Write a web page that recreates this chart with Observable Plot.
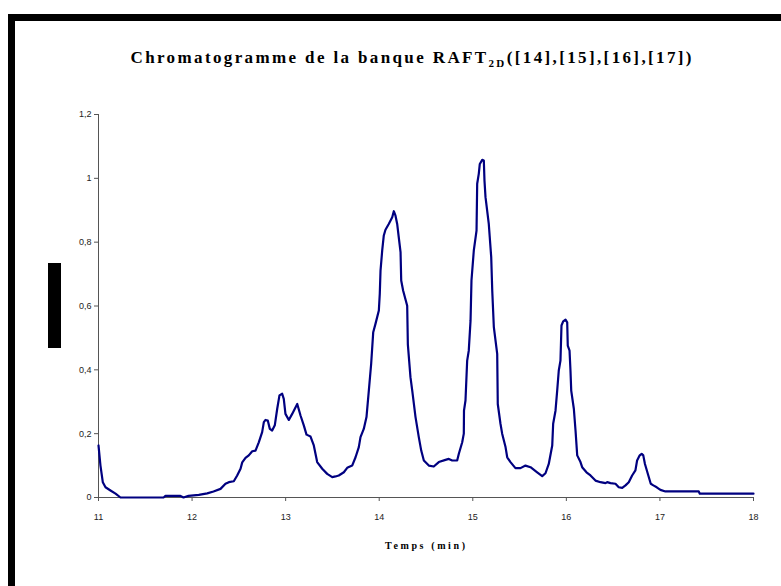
<!DOCTYPE html>
<html>
<head>
<meta charset="utf-8">
<script src="https://cdn.jsdelivr.net/npm/d3@7"></script>
<script src="https://cdn.jsdelivr.net/npm/@observablehq/plot@0.6"></script>
<style>
  html, body { margin: 0; padding: 0; background: #fff; }
  #wrap { position: relative; width: 781px; height: 586px; overflow: hidden; background: #fff; }
  #frame { position: absolute; left: 8px; top: 14px; width: 1000px; height: 1000px;
           border-left: 7px solid #000; border-top: 7px solid #000; box-sizing: border-box; }
  #ylabel { position: absolute; left: 48px; top: 263px; width: 13px; height: 85px; background: #000; }
  #chart { position: absolute; left: 0; top: 0; }
</style>
</head>
<body>
<div id="wrap">
  <div id="frame"></div>
  <div id="chart"></div>
  <div id="ylabel"></div>
</div>
<script>
const titleMain = "Chromatogramme de la banque RAFT";
const titleSub = "2D";
const titleEnd = "([14],[15],[16],[17])";
const xLabel = "Temps (min)";
const xTicks = [11, 12, 13, 14, 15, 16, 17, 18];
const yTicks = [0, 0.2, 0.4, 0.6, 0.8, 1, 1.2];

const times = [
  11.0, 11.021, 11.046, 11.075, 11.128, 11.182, 11.235, 11.695, 11.716, 11.876,
  11.908, 11.962, 12.072, 12.162, 12.229, 12.304, 12.357, 12.393, 12.446, 12.482,
  12.518, 12.536, 12.571, 12.606, 12.643, 12.678, 12.713, 12.749, 12.767, 12.785,
  12.809, 12.831, 12.856, 12.884, 12.910, 12.934, 12.963, 12.980, 12.998, 13.034,
  13.070, 13.124, 13.159, 13.194, 13.223, 13.266, 13.301, 13.337, 13.391, 13.444,
  13.498, 13.533, 13.568, 13.622, 13.658, 13.711, 13.747, 13.782, 13.800, 13.835,
  13.864, 13.889, 13.914, 13.936, 13.960, 13.996, 14.006, 14.014, 14.032, 14.049,
  14.067, 14.102, 14.139, 14.156, 14.174, 14.192, 14.209, 14.228, 14.235, 14.256,
  14.299, 14.306, 14.334, 14.353, 14.388, 14.423, 14.449, 14.477, 14.530, 14.583,
  14.637, 14.708, 14.744, 14.780, 14.833, 14.851, 14.887, 14.904, 14.906, 14.922,
  14.940, 14.957, 14.976, 14.986, 15.011, 15.040, 15.047, 15.064, 15.075, 15.101,
  15.118, 15.125, 15.136, 15.171, 15.197, 15.208, 15.225, 15.261, 15.267, 15.296,
  15.314, 15.350, 15.368, 15.403, 15.456, 15.510, 15.563, 15.617, 15.688, 15.742,
  15.777, 15.812, 15.849, 15.859, 15.884, 15.902, 15.919, 15.937, 15.948, 15.966,
  15.991, 16.009, 16.015, 16.034, 16.044, 16.052, 16.080, 16.098, 16.116, 16.151,
  16.169, 16.215, 16.258, 16.311, 16.365, 16.418, 16.436, 16.472, 16.525, 16.560,
  16.597, 16.632, 16.667, 16.703, 16.738, 16.756, 16.784, 16.805, 16.822, 16.840,
  16.876, 16.902, 16.930, 16.966, 17.005, 17.059, 17.415, 17.426, 18.0
];
const absorbance = [
  0.163, 0.10, 0.048, 0.032, 0.022, 0.012, 0.0, 0.0, 0.005, 0.005,
  0.0, 0.005, 0.008, 0.013, 0.019, 0.027, 0.043, 0.048, 0.051, 0.069,
  0.090, 0.110, 0.124, 0.132, 0.145, 0.147, 0.173, 0.205, 0.236, 0.243,
  0.241, 0.215, 0.210, 0.226, 0.278, 0.320, 0.325, 0.309, 0.262, 0.243,
  0.262, 0.293, 0.257, 0.226, 0.197, 0.191, 0.163, 0.111, 0.090, 0.074,
  0.064, 0.066, 0.069, 0.079, 0.093, 0.100, 0.126, 0.158, 0.189, 0.215,
  0.252, 0.335, 0.419, 0.518, 0.544, 0.586, 0.638, 0.711, 0.774, 0.821,
  0.839, 0.857, 0.878, 0.897, 0.883, 0.857, 0.815, 0.769, 0.680, 0.648,
  0.601, 0.480, 0.377, 0.335, 0.252, 0.189, 0.147, 0.116, 0.100, 0.097,
  0.111, 0.118, 0.121, 0.116, 0.116, 0.137, 0.173, 0.200, 0.272, 0.304,
  0.429, 0.460, 0.554, 0.680, 0.774, 0.836, 0.983, 1.014, 1.045, 1.058,
  1.056, 0.993, 0.941, 0.857, 0.753, 0.648, 0.534, 0.450, 0.293, 0.231,
  0.200, 0.158, 0.126, 0.111, 0.092, 0.092, 0.100, 0.095, 0.079, 0.067,
  0.076, 0.105, 0.163, 0.231, 0.272, 0.335, 0.398, 0.429, 0.539, 0.552,
  0.557, 0.549, 0.476, 0.460, 0.398, 0.335, 0.278, 0.210, 0.132, 0.111,
  0.095, 0.079, 0.069, 0.053, 0.048, 0.045, 0.048, 0.045, 0.043, 0.032,
  0.030, 0.038, 0.048, 0.069, 0.085, 0.116, 0.132, 0.137, 0.132, 0.105,
  0.069, 0.043, 0.038, 0.032, 0.024, 0.019, 0.019, 0.012, 0.012
];

const data = times.map((t, i) => ({t, a: absorbance[i]}));
const fmt = d => String(d).replace(".", ",");

const plot = Plot.plot({
  width: 781,
  height: 586,
  marginLeft: 98,
  marginRight: 28,
  marginTop: 114,
  marginBottom: 89,
  style: {background: "transparent", fontFamily: "'Liberation Sans', Arial, sans-serif"},
  x: {domain: [11, 18]},
  y: {domain: [0, 1.2]},
  marks: [
    Plot.axisX(xTicks, {tickSize: 4, tickPadding: 12, fontSize: 9, stroke: "#555", color: "#222", label: null, tickFormat: d => String(d)}),
    Plot.axisY(yTicks, {tickSize: 4, tickPadding: 3, fontSize: 9, stroke: "#555", color: "#222", label: null, tickFormat: fmt}),
    Plot.ruleX([11], {stroke: "#555"}),
    Plot.ruleY([0], {stroke: "#555"}),
    Plot.line(data, {x: "t", y: "a", stroke: "#000080", strokeWidth: 2.2, strokeLinejoin: "round"})
  ]
});
document.getElementById("chart").appendChild(plot);

const svg = d3.select(plot);
const title = svg.append("text")
  .attr("x", 411).attr("y", 63)
  .attr("text-anchor", "middle")
  .attr("font-family", "'Liberation Serif', 'Times New Roman', serif")
  .attr("font-weight", "bold")
  .attr("font-size", 17)
  .attr("fill", "#000")
  .attr("textLength", 561)
  .attr("lengthAdjust", "spacing");
title.append("tspan").text(titleMain);
title.append("tspan").attr("font-size", 11).attr("dy", 4).text(titleSub);
title.append("tspan").attr("dy", -4).text(titleEnd);

svg.append("text")
  .attr("x", 425).attr("y", 549)
  .attr("text-anchor", "middle")
  .attr("font-family", "'Liberation Serif', 'Times New Roman', serif")
  .attr("font-weight", "bold")
  .attr("font-size", 10)
  .attr("fill", "#000")
  .attr("textLength", 80)
  .attr("lengthAdjust", "spacing")
  .text(xLabel);
</script>
</body>
</html>
